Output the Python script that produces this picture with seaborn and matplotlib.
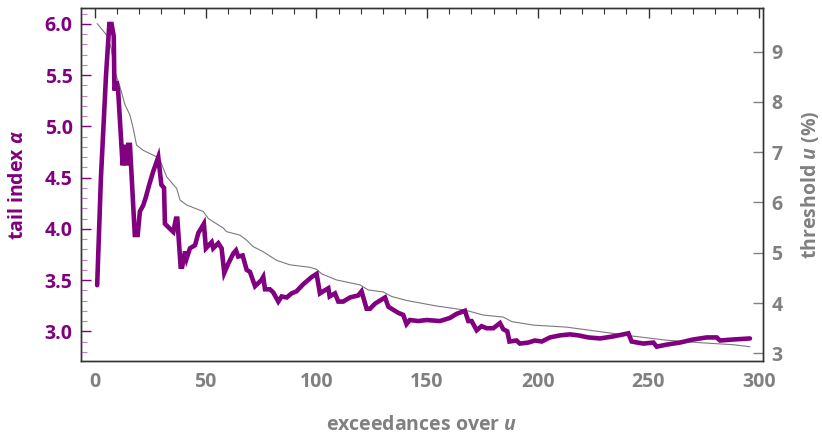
import matplotlib
matplotlib.use("Agg")
import matplotlib.pyplot as plt
import seaborn as sns
import pandas as pd
from matplotlib.ticker import MultipleLocator

# ---- data ----
alpha_k = [1, 2.7, 5, 6.5, 7.5, 8.5, 8.8, 9.8, 10.5, 12.5, 13.2, 14.3, 15, 15.8, 18, 19.3,
           20.3, 21.8, 23, 24.5, 26.3, 28.6, 30, 31.2, 31.6, 33.9, 35.4, 36.6, 37.2, 38.7,
           39.4, 40.7, 41.4, 42.9, 45.2, 46.7, 49.2, 50.1, 52.7, 53.4, 55.7, 57.2, 58.4,
           60.2, 62.5, 63.7, 64.7, 66.7, 68.5, 70, 72.3, 75.2, 76, 76.8, 79, 80.5, 82.8,
           84.3, 86.6, 88.8, 91, 94.1, 97.9, 100.1, 101.6, 103.8, 105.4, 106, 108.4, 109.9,
           112.1, 115.2, 118.9, 120.4, 122.7, 124.2, 126.5, 129.5, 131, 132.5, 134.7, 137,
           139.2, 140.7, 142.2, 146, 149.8, 155.8, 160.3, 163.3, 167.1, 168.6, 170.1, 172.4,
           174.6, 176.9, 179.9, 182.9, 184.4, 186.2, 187.2, 190.4, 191.9, 195.7, 198.7,
           201.8, 205.5, 210, 214.5, 218.3, 222.8, 228.1, 234.1, 240.9, 242.4, 247.6, 252.2,
           253.7, 258.2, 264.2, 270.2, 276.3, 280.8, 282.3, 288.3, 295.8]
alpha_v = [3.45, 4.5, 5.5, 6.0, 6.0, 5.88, 5.35, 5.44, 5.34, 4.62, 4.82, 4.62, 4.82, 4.82,
           3.94, 3.94, 4.17, 4.23, 4.31, 4.43, 4.56, 4.70, 4.43, 4.40, 4.05, 4.0, 3.97, 4.10,
           4.10, 3.63, 3.63, 3.78, 3.71, 3.81, 3.84, 3.96, 4.05, 3.81, 3.87, 3.81, 3.86, 3.81,
           3.57, 3.66, 3.76, 3.79, 3.73, 3.74, 3.60, 3.58, 3.44, 3.50, 3.53, 3.41, 3.41, 3.38,
           3.29, 3.34, 3.33, 3.37, 3.39, 3.46, 3.53, 3.56, 3.37, 3.40, 3.42, 3.34, 3.37, 3.29,
           3.29, 3.33, 3.35, 3.39, 3.22, 3.22, 3.27, 3.31, 3.33, 3.24, 3.21, 3.18, 3.16, 3.07,
           3.11, 3.10, 3.11, 3.10, 3.13, 3.17, 3.20, 3.10, 3.10, 3.01, 3.05, 3.03, 3.03, 3.08,
           3.02, 3.00, 2.90, 2.91, 2.88, 2.89, 2.91, 2.90, 2.94, 2.96, 2.97, 2.96, 2.94, 2.93,
           2.95, 2.98, 2.90, 2.88, 2.89, 2.85, 2.87, 2.89, 2.92, 2.94, 2.94, 2.91, 2.92, 2.93]

thr_k = [1, 5.3, 7.4, 9, 11.3, 13.6, 15.8, 17.3, 18.8, 21.7, 27.8, 29.4, 32.4, 36.9, 38.4,
         41.4, 48.9, 51.2, 58, 59.4, 65.5, 68.5, 71.5, 76, 82, 88, 97.1, 100.1, 102.4, 109,
         119.7, 123.4, 130.2, 134, 140.8, 154.3, 167.1, 175.4, 184.4, 188.2, 198, 213, 228.1,
         243.1, 258.2, 273.3, 288.3, 295.8]
thr_v = [9.56, 9.33, 9.06, 8.6, 8.30, 7.94, 7.74, 7.47, 7.14, 7.04, 6.91, 6.84, 6.51, 6.28,
         6.05, 5.95, 5.82, 5.68, 5.49, 5.42, 5.35, 5.25, 5.12, 5.02, 4.85, 4.76, 4.71, 4.67,
         4.58, 4.46, 4.36, 4.26, 4.22, 4.13, 4.05, 3.94, 3.86, 3.76, 3.72, 3.63, 3.56, 3.52,
         3.43, 3.34, 3.26, 3.21, 3.17, 3.13]

x_label = "exceedances over $\\mathbfit{u}$"
left_label = "tail index $\\mathbfit{\\alpha}$"
right_label = "threshold $\\mathbfit{u}$ (%)"

PURPLE = "#800080"
GRAY = "#808080"

sns.set_style("white")
plt.rcParams['font.family'] = ['Open Sans', 'DejaVu Sans']
plt.rcParams['mathtext.fontset'] = 'custom'
plt.rcParams['mathtext.it'] = 'Open Sans:italic:bold'
plt.rcParams['mathtext.bfit'] = 'Open Sans:italic:bold'
plt.rcParams['mathtext.rm'] = 'Open Sans:bold'

L, R, T, B = 81, 763, 8, 361.3
fig = plt.figure(figsize=(8.22, 4.36), dpi=100)
ax = fig.add_axes([L/822, 1-B/436, (R-L)/822, (B-T)/436])
ax2 = ax.twinx()

df_a = pd.DataFrame({"k": alpha_k, "alpha": alpha_v})
df_u = pd.DataFrame({"k": thr_k, "u": thr_v})

sns.lineplot(data=df_u, x="k", y="u", ax=ax2, color="#7a7a7a", linewidth=0.8, sort=False)
sns.lineplot(data=df_a, x="k", y="alpha", ax=ax, color=PURPLE, linewidth=3.3, sort=False,
             solid_joinstyle="miter")

ax.set_zorder(ax2.get_zorder() + 1)
ax.patch.set_visible(False)

ax.set_xlim(-6.3, 301.7)
ax.set_ylim(2.707, 6.156)
ax2.set_ylim(2.84, 9.87)

ax.xaxis.set_major_locator(MultipleLocator(50))
ax.xaxis.set_minor_locator(MultipleLocator(10))
ax.yaxis.set_major_locator(MultipleLocator(0.5))
ax.yaxis.set_minor_locator(MultipleLocator(0.1))
ax2.yaxis.set_major_locator(MultipleLocator(1))

FS = 14
ax.tick_params(axis='x', which='major', direction='in', length=7, width=1, color='#333333',
               top=True, labelsize=FS, labelcolor=GRAY, pad=8)
ax.tick_params(axis='x', which='minor', direction='in', length=4.5, width=0.8, color='#333333', top=True)
ax.tick_params(axis='y', which='major', direction='in', length=7, width=1, color=PURPLE,
               labelsize=FS, labelcolor=PURPLE, pad=6)
ax.tick_params(axis='y', which='minor', direction='in', length=4, width=0.8, color='#c080c0')
ax2.tick_params(axis='y', which='major', direction='in', length=7, width=1, color=GRAY,
                labelsize=FS, labelcolor=GRAY, pad=6)

for lab in ax.get_xticklabels() + ax.get_yticklabels() + ax2.get_yticklabels():
    lab.set_fontweight('bold')

W, H = R - L, B - T
ax.set_xlabel(x_label, fontsize=FS, fontweight='bold', color=GRAY)
ax.set_ylabel(left_label, fontsize=FS, fontweight='bold', color=PURPLE)
ax2.set_ylabel(right_label, fontsize=FS, fontweight='bold', color=GRAY)
ax.xaxis.set_label_coords(0.5, (B - 425) / H)
ax.yaxis.set_label_coords((18 - L) / W, 0.5)
ax2.yaxis.set_label_coords((810 - L) / W, 0.5)
ax2.yaxis.label.set_verticalalignment('center')
ax.yaxis.label.set_verticalalignment('center')
ax.xaxis.label.set_verticalalignment('center')

for a in (ax, ax2):
    for s in a.spines.values():
        s.set_color('#333333')
        s.set_linewidth(1.0)

fig.savefig("out.png", dpi=100)
